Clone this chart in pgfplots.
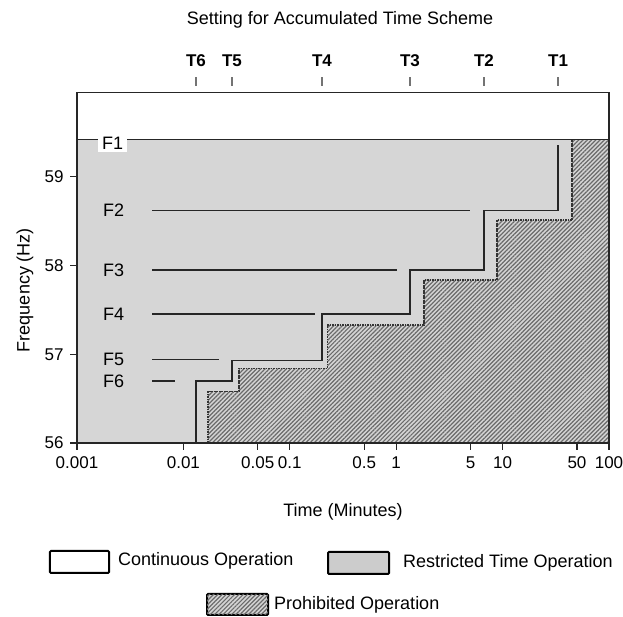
\documentclass[border=0pt]{standalone}
\usepackage{fontspec}
\setmainfont{Liberation Sans}
\usepackage{pgfplots}
\pgfplotsset{compat=1.18}
\usetikzlibrary{patterns.meta}
\begin{document}
\begin{tikzpicture}[font=\fontsize{18}{21}\selectfont]
\path[use as bounding box] (-77pt,-174pt) rectangle (546pt,443pt);
\begin{axis}[name=main, at={(0,0)}, anchor=south west, scale only axis,
  width=532pt, height=350.5pt,
  xmode=log, xmin=0.001, xmax=100, ymin=56, ymax=59.95,
  xtick={0.001,0.01,0.05,0.1,0.5,1,5,10,50,100},
  xticklabels={0.001,0.01,0.05,0.1,0.5,1,5,10,50,100},
  xminorticks=false, yminorticks=false,
  ytick={56,57,58,59}, yticklabels={56,57,58,59},
  tick align=outside, xtick pos=bottom, ytick pos=left,
  major tick length=7pt,
  tick style={black!85, line width=1.3pt},
  axis line style={black!85, line width=1.5pt},
  ticklabel style={font=\fontsize{17}{20}\selectfont},
  xticklabel style={yshift=-3pt},
  yticklabel style={xshift=-3pt},
  axis on top=true,
  xlabel={Time (Minutes)},
  xlabel style={at={(axis description cs:0.5,-0.197)}, anchor=center},
  ylabel={Frequency (Hz)},
  ylabel style={at={(axis description cs:-0.0977,0.4365)}, anchor=center, rotate=0},
]
% restricted region
\addplot[draw=none, fill=black!16] coordinates {(0.001,56)(100,56)(100,59.42)(0.001,59.42)} -- cycle;
% prohibited region
\addplot[draw=none, fill=black!17, postaction={pattern={Lines[angle=45,distance=3pt,line width=1.2pt]}, pattern color=black!58}]
  coordinates {(0.0170,56)(0.0170,56.58)(0.0333,56.58)(0.0333,56.84)(0.227,56.84)(0.227,57.33)(1.825,57.33)(1.825,57.84)(8.86,57.84)(8.86,58.51)(44.9,58.51)(44.9,59.42)(100,59.42)(100,56)} -- cycle;
% prohibited boundary
\addplot[black!80, line width=1.6pt, dash pattern=on 1.6pt off 0.9pt]
  coordinates {(0.0170,56)(0.0170,56.58)(0.0333,56.58)(0.0333,56.84)(0.227,56.84)(0.227,57.33)(1.825,57.33)(1.825,57.84)(8.86,57.84)(8.86,58.51)(44.9,58.51)(44.9,59.42)};
% restricted staircase
\addplot[black!85, line width=1.7pt]
  coordinates {(0.01313,56)(0.01313,56.70)(0.0286,56.70)(0.0286,56.93)(0.2007,56.93)(0.2007,57.45)(1.348,57.45)(1.348,57.95)(6.69,57.95)(6.69,58.62)(33.2,58.62)(33.2,59.36)};
% F lines
\addplot[black!85, line width=1.5pt] coordinates {(0.001,59.42)(100,59.42)};
\addplot[black!85, line width=1.7pt] coordinates {(0.00507,58.62)(4.94,58.62)};
\addplot[black!85, line width=1.7pt] coordinates {(0.00507,57.95)(1.017,57.95)};
\addplot[black!85, line width=1.7pt] coordinates {(0.00507,57.45)(0.1726,57.45)};
\addplot[black!85, line width=1.7pt] coordinates {(0.00507,56.94)(0.0216,56.94)};
\addplot[black!85, line width=1.7pt] coordinates {(0.00507,56.70)(0.00834,56.70)};
% F labels
\node[anchor=west, fill=white, inner xsep=4pt, inner ysep=2pt] at (axis cs:0.001576,59.375) {F1};
\node[anchor=west, inner sep=0pt] at (axis cs:0.001755,58.62) {F2};
\node[anchor=west, inner sep=0pt] at (axis cs:0.001755,57.95) {F3};
\node[anchor=west, inner sep=0pt] at (axis cs:0.001755,57.45) {F4};
\node[anchor=west, inner sep=0pt] at (axis cs:0.001755,56.94) {F5};
\node[anchor=west, inner sep=0pt] at (axis cs:0.001755,56.69) {F6};
\end{axis}
% top T ticks
\begin{axis}[at={(0,6pt)}, anchor=south west, scale only axis,
  width=532pt, height=350.5pt,
  xmode=log, xmin=0.001, xmax=100, ymin=0, ymax=1,
  axis x line*=top, axis y line=none,
  x axis line style={draw=none},
  xtick={0.01313,0.0286,0.2007,1.348,6.69,33.2},
  xticklabels={T6,T5,T4,T3,T2,T1},
  xminorticks=false,
  tick align=outside, major tick length=9pt,
  tick style={black!55, line width=1.3pt},
  xticklabel style={font=\fontsize{17}{20}\selectfont\bfseries, yshift=7pt},
]
\end{axis}
\node at (263pt,423pt) {Setting for Accumulated Time Scheme};
% legend
\draw[black, line width=2pt, rounded corners=1pt, fill=white] (-27pt,-108pt) rectangle (32pt,-130pt);
\node[anchor=west, inner sep=0pt] at (41pt,-118pt) {Continuous Operation};
\draw[black, line width=2pt, rounded corners=1pt, fill=black!20] (251pt,-109pt) rectangle (312pt,-131pt);
\node[anchor=west, inner sep=0pt] at (326pt,-120pt) {Restricted Time Operation};
\draw[black, line width=2pt, rounded corners=1pt, fill=black!17, postaction={pattern={Lines[angle=45,distance=3pt,line width=1.2pt]}, pattern color=black!58}] (130pt,-151pt) rectangle (191pt,-172pt);
\node[anchor=west, inner sep=0pt] at (197pt,-162pt) {Prohibited Operation};
\end{tikzpicture}
\end{document}
